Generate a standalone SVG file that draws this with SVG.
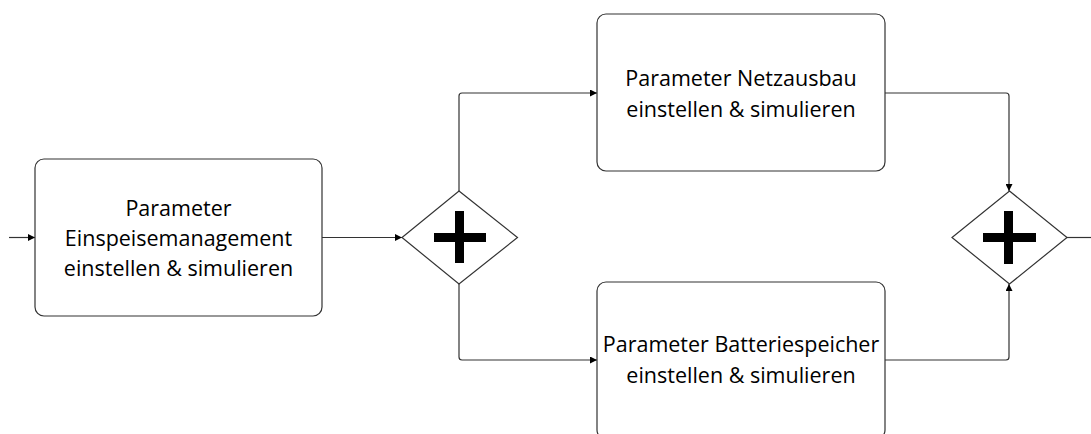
<svg xmlns="http://www.w3.org/2000/svg" width="1091" height="434" viewBox="0 0 1091 434">
  <style>
    .task { fill: #ffffff; stroke: #333333; stroke-width: 1.2; }
    .gw { fill: #ffffff; stroke: #333333; stroke-width: 1.2; }
    .plus { fill: #000000; }
    .flow { fill: none; stroke: #333333; stroke-width: 1.2; marker-end: url(#arrow); }
    .line { fill: none; stroke: #333333; stroke-width: 1.2; }
    .label { font-family: "Open Sans", "Noto Sans", sans-serif; font-size: 21.5px; fill: #000000; text-anchor: middle; }
  </style>
  <defs>
    <marker id="arrow" viewBox="0 0 10 10" refX="10" refY="5" markerWidth="7" markerHeight="7" markerUnits="userSpaceOnUse" orient="auto">
      <path d="M0,0 L10,5 L0,10 Z" fill="#000000"/>
    </marker>
  </defs>

  <rect width="1091" height="434" fill="#ffffff"/>

  <!-- sequence flows -->
  <g id="connectors">
    <path class="flow" d="M9,237.5 H35"/>
    <path class="flow" d="M322,237.5 H402"/>
    <path class="flow" d="M459,191 V96 Q459,93 462,93 H597"/>
    <path class="flow" d="M459,284 V357 Q459,360 462,360 H597"/>
    <path class="flow" d="M885,93 H1006 Q1009,93 1009,96 V191"/>
    <path class="flow" d="M885,360 H1006 Q1009,360 1009,357 V284"/>
    <path class="line" d="M1067,237.5 H1091"/>
  </g>

  <!-- tasks -->
  <g id="task-einspeisemanagement">
    <rect class="task" x="35" y="159" width="287" height="157" rx="9"/>
    <text class="label" x="178.5" y="216">Parameter</text>
    <text class="label" x="178.5" y="246">Einspeisemanagement</text>
    <text class="label" x="178.5" y="276">einstellen &amp; simulieren</text>
  </g>

  <g id="task-netzausbau">
    <rect class="task" x="597" y="14" width="288" height="157" rx="9"/>
    <text class="label" x="741" y="86">Parameter Netzausbau</text>
    <text class="label" x="741" y="116.5">einstellen &amp; simulieren</text>
  </g>

  <g id="task-batteriespeicher">
    <rect class="task" x="597" y="282" width="288" height="157" rx="9"/>
    <text class="label" x="741" y="352">Parameter Batteriespeicher</text>
    <text class="label" x="741" y="382.5">einstellen &amp; simulieren</text>
  </g>

  <!-- parallel gateways -->
  <g id="gateway-split">
    <polygon class="gw" points="459,191 517.5,237.5 459,284 402,237.5"/>
    <rect class="plus" x="434" y="233" width="52" height="9"/>
    <rect class="plus" x="455" y="211" width="9" height="52"/>
  </g>

  <g id="gateway-join">
    <polygon class="gw" points="1009.5,191 1067,237.5 1009.5,284 952,237.5"/>
    <rect class="plus" x="983" y="233" width="53" height="9"/>
    <rect class="plus" x="1004" y="211" width="9" height="53"/>
  </g>
</svg>
